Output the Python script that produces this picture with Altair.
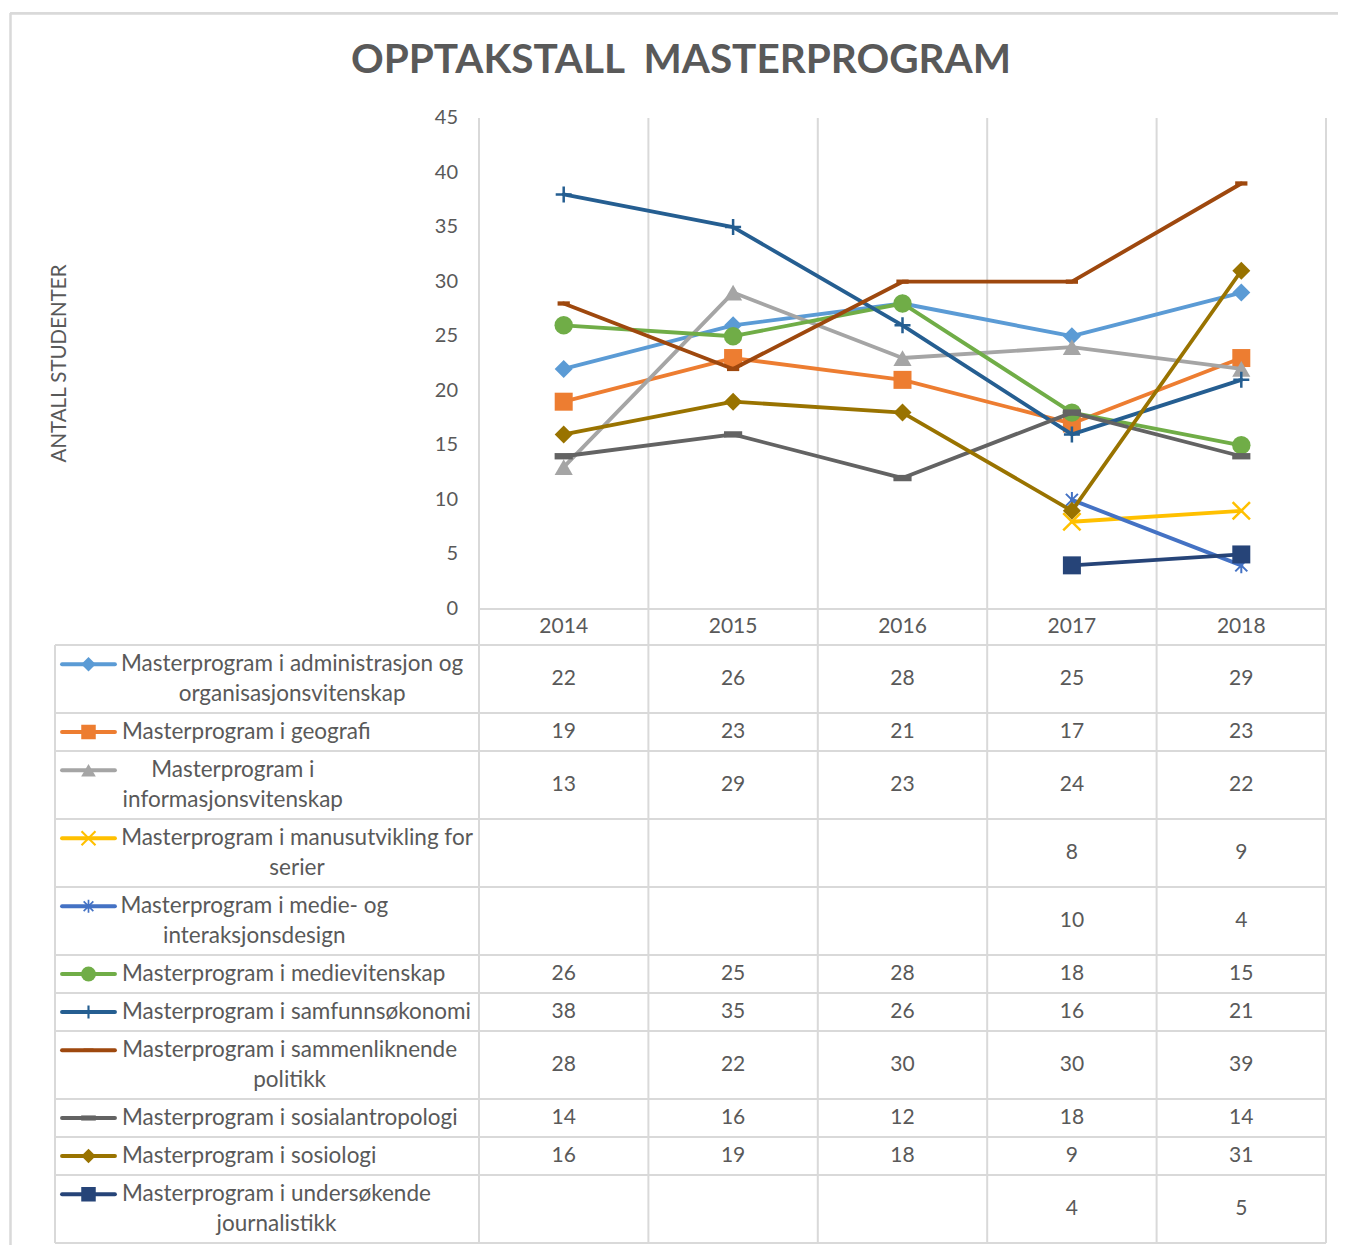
import altair as alt
import pandas as pd

# ---------------- data ----------------
YEARS = [2014, 2015, 2016, 2017, 2018]

LABEL_LINES = [
    ["Masterprogram i administrasjon og", "organisasjonsvitenskap"],
    ["Masterprogram i geografi"],
    ["Masterprogram i", "informasjonsvitenskap"],
    ["Masterprogram i manusutvikling for", "serier"],
    ["Masterprogram i medie- og", "interaksjonsdesign"],
    ["Masterprogram i medievitenskap"],
    ["Masterprogram i samfunnsøkonomi"],
    ["Masterprogram i sammenliknende", "politikk"],
    ["Masterprogram i sosialantropologi"],
    ["Masterprogram i sosiologi"],
    ["Masterprogram i undersøkende", "journalistikk"],
]
SERIES = [" ".join(lines) for lines in LABEL_LINES]

ADMINISTRASJON = [22, 26, 28, 25, 29]
GEOGRAFI = [19, 23, 21, 17, 23]
INFORMASJON = [13, 29, 23, 24, 22]
MANUSUTVIKLING = [None, None, None, 8, 9]
MEDIE_INTERAKSJON = [None, None, None, 10, 4]
MEDIEVITENSKAP = [26, 25, 28, 18, 15]
SAMFUNNSOKONOMI = [38, 35, 26, 16, 21]
SAMMENLIKNENDE = [28, 22, 30, 30, 39]
SOSIALANTROPOLOGI = [14, 16, 12, 18, 14]
SOSIOLOGI = [16, 19, 18, 9, 31]
UNDERSOKENDE = [None, None, None, 4, 5]

VALUES = [ADMINISTRASJON, GEOGRAFI, INFORMASJON, MANUSUTVIKLING, MEDIE_INTERAKSJON,
          MEDIEVITENSKAP, SAMFUNNSOKONOMI, SAMMENLIKNENDE, SOSIALANTROPOLOGI,
          SOSIOLOGI, UNDERSOKENDE]

TITLE = "OPPTAKSTALL\u00a0 MASTERPROGRAM"
Y_TITLE = "ANTALL STUDENTER"
Y_TICKS = [0, 5, 10, 15, 20, 25, 30, 35, 40, 45]

# ---------------- style ----------------
COLORS = ["#5B9BD5", "#ED7D31", "#A5A5A5", "#FFC000", "#4472C4", "#70AD47",
          "#255E91", "#9E480E", "#636363", "#997300", "#264478"]
X_PATH = "M-1,-1L1,1M-1,1L1,-1"
STAR_PATH = "M-0.75,-0.75L0.75,0.75M-0.75,0.75L0.75,-0.75M0,-1L0,1"
PLUS_PATH = "M-1,0L1,0M0,-1L0,1"
DASH_PATH = "M-1,-0.35L1,-0.35L1,0.35L-1,0.35Z"
# shape, filled, size, strokeWidth
MARKERS = [
    ("diamond", True, 324, 0),
    ("square", True, 324, 0),
    ("triangle-up", True, 330, 0),
    (X_PATH, False, 300, 2.5),
    (STAR_PATH, False, 256, 2),
    ("circle", True, 340, 0),
    (PLUS_PATH, False, 256, 2.5),
    (DASH_PATH, True, 150, 0),
    (DASH_PATH, True, 330, 0),
    ("diamond", True, 324, 0),
    ("square", True, 324, 0),
]
FONT = "Lato"
TEXT = "#595959"
GRID = "#D9D9D9"
LINE_W = 3.85
TABLE_FS = 21
LABEL_FS = 22.5

# approximate advance widths of Lato glyphs (em), used only to centre wrapped labels
GLYPH_EM = {
    " ": 0.193, "a": 0.48, "b": 0.555, "c": 0.46, "d": 0.555, "e": 0.52, "f": 0.32,
    "g": 0.50, "h": 0.555, "i": 0.24, "j": 0.24, "k": 0.50, "l": 0.24, "m": 0.83,
    "n": 0.555, "o": 0.55, "p": 0.55, "r": 0.37, "s": 0.42, "t": 0.36, "u": 0.555,
    "v": 0.50, "z": 0.44, "ø": 0.55, "M": 0.86, "-": 0.33,
}
WIDTH_FUDGE = 1.02

# ---------------- layout (page pixels) ----------------
ORIGIN_X, ORIGIN_Y = 10, 12
W, H = 1328, 1233
PLOT_L, PLOT_R, PLOT_T, PLOT_B = 479, 1326, 118, 609
HEADER_BOTTOM = 645
TABLE_L = 55
KEY_X0, KEY_X1, KEY_XM = 62, 115, 88.5
LABEL_X = 122
LINE_SPACING = 29.5
ROW_PAD, ROW_LINE = 8, 30
TICK_LABEL_RIGHT = 458
Y_TITLE_X, Y_TITLE_Y = 66, 363.5
TITLE_X, TITLE_Y = 681, 73
NCOL = len(YEARS)
YMAX = 45


def ux(px):
    return (px - PLOT_L) / ((PLOT_R - PLOT_L) / NCOL)


def vy(py):
    return (PLOT_B - py) * YMAX / (PLOT_B - PLOT_T)


def text_width(s, fs):
    return sum(GLYPH_EM.get(ch, 0.52) for ch in s) * fs * WIDTH_FUDGE


XSCALE = alt.Scale(domain=[0, NCOL], range=[PLOT_L - ORIGIN_X, PLOT_R - ORIGIN_X], nice=False, zero=False)
YSCALE = alt.Scale(domain=[0, YMAX], range=[PLOT_B - ORIGIN_Y, PLOT_T - ORIGIN_Y], nice=False, zero=False)


def X(f):
    return alt.X(f, type="quantitative", scale=XSCALE, axis=None)


def Y(f):
    return alt.Y(f, type="quantitative", scale=YSCALE, axis=None)


def text_layer(df, **kw):
    props = dict(font=FONT, color=TEXT, baseline="middle")
    props.update(kw)
    return alt.Chart(df).mark_text(**props).encode(x=X("x:Q"), y=Y("y:Q"), text="t:N")


# ---------------- table geometry ----------------
rows = []
top = HEADER_BOTTOM
for i, lines in enumerate(LABEL_LINES):
    h = ROW_PAD + ROW_LINE * len(lines)
    rows.append(dict(i=i, top=top, bottom=top + h, center=top + h / 2, n=len(lines)))
    top += h
TABLE_B = top

# segments: frame, gridlines, table lines
segs = []
segs.append(dict(x1=ux(ORIGIN_X + 0.5), x2=ux(ORIGIN_X + 0.5), y1=vy(ORIGIN_Y + 1), y2=vy(ORIGIN_Y + H + 20), w=2.5))
segs.append(dict(x1=ux(ORIGIN_X), x2=ux(ORIGIN_X + W + 20), y1=vy(ORIGIN_Y + 1.5), y2=vy(ORIGIN_Y + 1.5), w=2.5))
for b in range(NCOL + 1):
    segs.append(dict(x1=b, x2=b, y1=vy(PLOT_T), y2=vy(TABLE_B), w=2))
segs.append(dict(x1=0, x2=NCOL, y1=0, y2=0, w=2))
segs.append(dict(x1=ux(TABLE_L), x2=ux(TABLE_L), y1=vy(HEADER_BOTTOM), y2=vy(TABLE_B), w=2))
segs.append(dict(x1=ux(TABLE_L), x2=NCOL, y1=vy(HEADER_BOTTOM), y2=vy(HEADER_BOTTOM), w=2))
for r in rows:
    segs.append(dict(x1=ux(TABLE_L), x2=NCOL, y1=vy(r["bottom"]), y2=vy(r["bottom"]), w=2))
seg_df = pd.DataFrame(segs)

seg_layer = alt.Chart(seg_df).mark_rule(color=GRID).encode(
    x=X("x1"), x2="x2", y=Y("y1"), y2="y2",
    strokeWidth=alt.StrokeWidth("w:Q", scale=None),
)

# y tick labels (through the y scale) and y title
tick_df = pd.DataFrame({"x": [ux(TICK_LABEL_RIGHT)] * len(Y_TICKS), "y": Y_TICKS,
                        "t": [str(v) for v in Y_TICKS]})
tick_layer = text_layer(tick_df, fontSize=20, align="right")
ytitle_layer = text_layer(pd.DataFrame([dict(x=ux(Y_TITLE_X), y=vy(Y_TITLE_Y), t=Y_TITLE)]),
                          fontSize=20.5, align="center", baseline="alphabetic", angle=270)
title_layer = text_layer(pd.DataFrame([dict(x=ux(TITLE_X), y=vy(TITLE_Y), t=TITLE)]),
                         fontSize=40.5, fontWeight="bold", align="center", baseline="alphabetic")

# series layers
series_layers = []
for i, name in enumerate(SERIES):
    d = pd.DataFrame({
        "series": name,
        "xpos": [k + 0.5 for k in range(NCOL)],
        "value": VALUES[i],
    }).dropna()
    shape, filled, size, sw = MARKERS[i]
    line = alt.Chart(d).mark_line(color=COLORS[i], strokeWidth=LINE_W, strokeJoin="round",
                                  strokeCap="round").encode(x=X("xpos:Q"), y=Y("value:Q"))
    pkw = dict(shape=shape, size=size, opacity=1, filled=filled)
    if filled:
        pkw.update(fill=COLORS[i], strokeWidth=0)
    else:
        pkw.update(stroke=COLORS[i], strokeWidth=sw, fillOpacity=0)
    pts = alt.Chart(d).mark_point(**pkw).encode(x=X("xpos:Q"), y=Y("value:Q"))
    series_layers += [line, pts]

# table texts
num_rows = []
for r in rows:
    for k, v in enumerate(VALUES[r["i"]]):
        if v is not None:
            num_rows.append(dict(x=k + 0.5, y=vy(r["center"]), t=str(v)))
for k, yr in enumerate(YEARS):
    num_rows.append(dict(x=k + 0.5, y=vy((PLOT_B + HEADER_BOTTOM) / 2), t=str(yr)))
num_layer = text_layer(pd.DataFrame(num_rows), fontSize=TABLE_FS, align="center")

single, multi = [], []
key_lines = []
key_pts = []
for r in rows:
    lines = LABEL_LINES[r["i"]]
    n = len(lines)
    ys = [r["center"] + (j - (n - 1) / 2) * LINE_SPACING for j in range(n)]
    if n == 1:
        single.append(dict(x=ux(LABEL_X), y=vy(ys[0]), t=lines[0]))
    else:
        cx = LABEL_X + max(text_width(s, LABEL_FS) for s in lines) / 2
        for j, s in enumerate(lines):
            multi.append(dict(x=ux(cx), y=vy(ys[j]), t=s))
    key_lines.append(dict(x1=ux(KEY_X0), x2=ux(KEY_X1), y=vy(ys[0]), c=COLORS[r["i"]]))
    key_pts.append(dict(x=ux(KEY_XM), y=vy(ys[0]), i=r["i"]))

single_layer = text_layer(pd.DataFrame(single), fontSize=LABEL_FS, align="left")
multi_layer = text_layer(pd.DataFrame(multi), fontSize=LABEL_FS, align="center")
key_line_layer = alt.Chart(pd.DataFrame(key_lines)).mark_rule(strokeWidth=LINE_W, strokeCap="round").encode(
    x=X("x1:Q"), x2="x2:Q", y=Y("y:Q"), color=alt.Color("c:N", scale=None)
)
key_layers = []
for kp in key_pts:
    i = kp["i"]
    shape, filled, size, sw = MARKERS[i]
    pkw = dict(shape=shape, size=size * 0.65, opacity=1, filled=filled)
    if filled:
        pkw.update(fill=COLORS[i], strokeWidth=0)
    else:
        pkw.update(stroke=COLORS[i], strokeWidth=sw * 0.85, fillOpacity=0)
    key_layers.append(alt.Chart(pd.DataFrame([kp])).mark_point(**pkw).encode(x=X("x:Q"), y=Y("y:Q")))

chart = alt.layer(
    seg_layer, tick_layer, ytitle_layer, title_layer, *series_layers, num_layer,
    single_layer, multi_layer, key_line_layer, *key_layers
).properties(
    width=W, height=H,
    padding={"left": ORIGIN_X - 8, "top": ORIGIN_Y - 8, "right": 0, "bottom": 0},
    autosize=alt.AutoSizeParams(type="none"),
).configure_view(stroke=None).configure(background="white")

chart.save("out.html", embed_options={"renderer": "svg", "actions": False})
